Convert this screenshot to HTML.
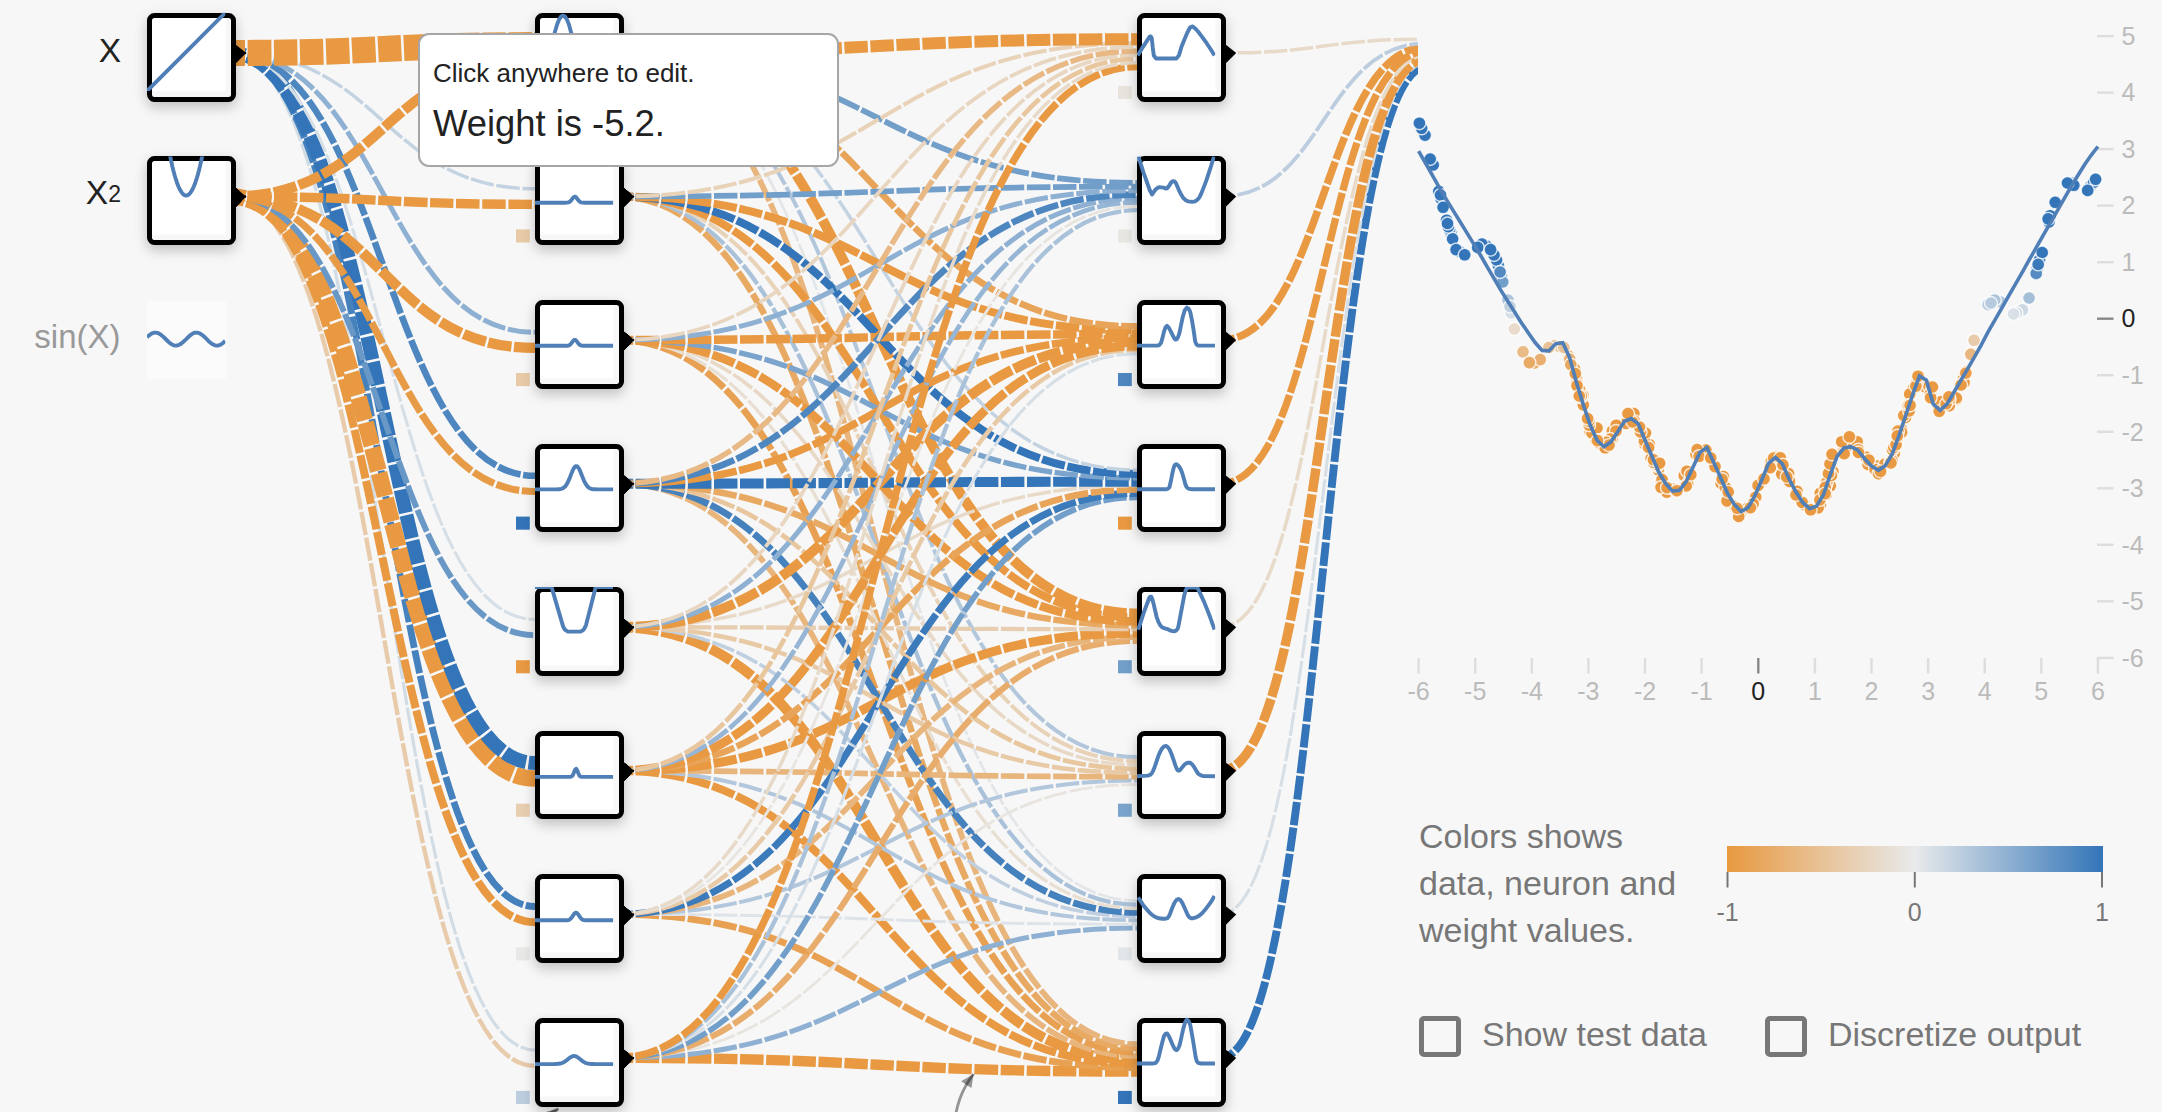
<!DOCTYPE html>
<html><head><meta charset="utf-8"><title>Neural network playground</title>
<style>
html,body{margin:0;padding:0}
body{width:2162px;height:1112px;overflow:hidden;position:relative;background:#f7f7f7;font-family:"Liberation Sans",sans-serif;color:#777}
.nd{position:absolute;box-sizing:border-box;width:88.6px;height:88.8px;border:5px solid #000;border-radius:7.5px;background:#f7f7f7 linear-gradient(#fff,#fff) no-repeat 0 0/73.5px 73.5px;box-shadow:0 5px 13px rgba(0,0,0,.23)}
.off{position:absolute;left:147px;top:300.9px;width:78.8px;height:78.3px;background:#fbfbfb}
svg{position:absolute;left:0;top:0;overflow:hidden}
.l{fill:none;stroke-dasharray:23.5 2.6;stroke-dashoffset:9}
.p{fill:none;stroke:#4f7fb6;stroke-width:3.9;stroke-linejoin:round}
#net text{fill:#222}
#chart text{font-size:25px}
#chart circle{stroke:rgba(255,255,255,.8);stroke-width:1.4}
.leg{position:absolute;left:1419px;top:813px;width:275px;font-size:34px;line-height:47px;color:#777}
.bar{position:absolute;left:1727px;top:846px;width:376px;height:26px;background:linear-gradient(90deg,#e89941 0%,#e8eaeb 50%,#3375b8 100%)}
.cb{position:absolute;box-sizing:border-box;width:41.5px;height:41px;border:5.2px solid #777;border-radius:5px}
.cl{position:absolute;font-size:34px;line-height:40px;color:#777;white-space:nowrap}
.tip{position:absolute;box-sizing:border-box;left:418px;top:33px;width:420.5px;height:133.5px;background:#fff;border:2px solid #a6a6a6;border-radius:11px;color:#222}
.tip div{position:absolute;left:13px;white-space:nowrap}
</style></head><body>
<div class="off"></div>
<svg id="lnk" width="1418" height="1112" viewBox="0 0 1418 1112">
<g><path class="l" d="M1220.5,1057.9C1323.8,1057.9 1323.8,66.7 1427,66.7" stroke="#3375b8" stroke-width="7.9"/><path d="M1223.1,1071L1236.2,1057.9L1223.1,1047.5Z" fill="#000"/>
<path class="l" d="M1220.5,914.4C1323.8,914.4 1323.8,62.7 1427,62.7" stroke="#d6dee6" stroke-width="3.1"/><path d="M1223.1,927.4L1236.2,914.4L1223.1,903.9Z" fill="#000"/>
<path class="l" d="M1220.5,770.8C1323.8,770.8 1323.8,58.8 1427,58.8" stroke="#e89941" stroke-width="9.4"/><path d="M1223.1,783.8L1236.2,770.8L1223.1,760.4Z" fill="#000"/>
<path class="l" d="M1220.5,627.2C1323.8,627.2 1323.8,54.9 1427,54.9" stroke="#e8dac9" stroke-width="3.5"/><path d="M1223.1,640.3L1236.2,627.2L1223.1,616.8Z" fill="#000"/>
<path class="l" d="M1220.5,483.7C1323.8,483.7 1323.8,51 1427,51" stroke="#e89941" stroke-width="7.3"/><path d="M1223.1,496.7L1236.2,483.7L1223.1,473.2Z" fill="#000"/>
<path class="l" d="M1220.5,340.1C1323.8,340.1 1323.8,47.1 1427,47.1" stroke="#e89941" stroke-width="7.5"/><path d="M1223.1,353.1L1236.2,340.1L1223.1,329.6Z" fill="#000"/>
<path class="l" d="M1220.5,196.5C1323.8,196.5 1323.8,43.2 1427,43.2" stroke="#bbcdde" stroke-width="3.8"/><path d="M1223.1,209.6L1236.2,196.5L1223.1,186.1Z" fill="#000"/>
<path class="l" d="M1220.5,53C1323.8,53 1323.8,39.2 1427,39.2" stroke="#e8dac9" stroke-width="3.5"/><path d="M1223.1,66L1236.2,53L1223.1,42.5Z" fill="#000"/>
<path class="l" d="M618.5,1057.9C877.8,1057.9 877.8,1071.6 1137,1071.6" stroke="#e89941" stroke-width="10.4"/><path d="M621.1,1071L634.2,1057.9L621.1,1047.5Z" fill="#000"/>
<path class="l" d="M618.5,914.4C877.8,914.4 877.8,1067.7 1137,1067.7" stroke="#e8a152" stroke-width="6.8"/><path d="M621.1,927.4L634.2,914.4L621.1,903.9Z" fill="#000"/>
<path class="l" d="M618.5,770.8C877.8,770.8 877.8,1063.8 1137,1063.8" stroke="#e89941" stroke-width="8"/><path d="M621.1,783.8L634.2,770.8L621.1,760.4Z" fill="#000"/>
<path class="l" d="M618.5,627.2C877.8,627.2 877.8,1059.9 1137,1059.9" stroke="#e89941" stroke-width="10.1"/><path d="M621.1,640.3L634.2,627.2L621.1,616.8Z" fill="#000"/>
<path class="l" d="M618.5,483.7C877.8,483.7 877.8,1056 1137,1056" stroke="#e8b57c" stroke-width="5.7"/><path d="M621.1,496.7L634.2,483.7L621.1,473.2Z" fill="#000"/>
<path class="l" d="M618.5,340.1C877.8,340.1 877.8,1052.1 1137,1052.1" stroke="#e8a152" stroke-width="6.8"/><path d="M621.1,353.1L634.2,340.1L621.1,329.6Z" fill="#000"/>
<path class="l" d="M618.5,196.5C877.8,196.5 877.8,1048.2 1137,1048.2" stroke="#e8a963" stroke-width="6.4"/><path d="M621.1,209.6L634.2,196.5L621.1,186.1Z" fill="#000"/>
<path class="l" d="M618.5,53C877.8,53 877.8,1044.2 1137,1044.2" stroke="#e8b57c" stroke-width="5.7"/><path d="M621.1,66L634.2,53L621.1,42.5Z" fill="#000"/>
<path class="l" d="M618.5,1057.9C877.8,1057.9 877.8,928.1 1137,928.1" stroke="#8eb0d2" stroke-width="5"/><path d="M621.1,1071L634.2,1057.9L621.1,1047.5Z" fill="#000"/>
<path class="l" d="M618.5,914.4C877.8,914.4 877.8,924.2 1137,924.2" stroke="#dde3e8" stroke-width="2.9"/><path d="M621.1,927.4L634.2,914.4L621.1,903.9Z" fill="#000"/>
<path class="l" d="M618.5,770.8C877.8,770.8 877.8,920.2 1137,920.2" stroke="#b2c7dc" stroke-width="4"/><path d="M621.1,783.8L634.2,770.8L621.1,760.4Z" fill="#000"/>
<path class="l" d="M618.5,627.2C877.8,627.2 877.8,916.3 1137,916.3" stroke="#c0d0e0" stroke-width="3.6"/><path d="M621.1,640.3L634.2,627.2L621.1,616.8Z" fill="#000"/>
<path class="l" d="M618.5,483.7C877.8,483.7 877.8,912.4 1137,912.4" stroke="#4581bd" stroke-width="6.8"/><path d="M621.1,496.7L634.2,483.7L621.1,473.2Z" fill="#000"/>
<path class="l" d="M618.5,340.1C877.8,340.1 877.8,908.5 1137,908.5" stroke="#e8ded2" stroke-width="3.3"/><path d="M621.1,353.1L634.2,340.1L621.1,329.6Z" fill="#000"/>
<path class="l" d="M618.5,196.5C877.8,196.5 877.8,904.6 1137,904.6" stroke="#a9c1d9" stroke-width="4.3"/><path d="M621.1,209.6L634.2,196.5L621.1,186.1Z" fill="#000"/>
<path class="l" d="M618.5,53C877.8,53 877.8,900.7 1137,900.7" stroke="#e3e6e9" stroke-width="2.8"/><path d="M621.1,66L634.2,53L621.1,42.5Z" fill="#000"/>
<path class="l" d="M618.5,1057.9C877.8,1057.9 877.8,784.5 1137,784.5" stroke="#e8e4df" stroke-width="2.9"/><path d="M621.1,1071L634.2,1057.9L621.1,1047.5Z" fill="#000"/>
<path class="l" d="M618.5,914.4C877.8,914.4 877.8,780.6 1137,780.6" stroke="#b2c7dc" stroke-width="4"/><path d="M621.1,927.4L634.2,914.4L621.1,903.9Z" fill="#000"/>
<path class="l" d="M618.5,770.8C877.8,770.8 877.8,776.7 1137,776.7" stroke="#e8b57c" stroke-width="5.7"/><path d="M621.1,783.8L634.2,770.8L621.1,760.4Z" fill="#000"/>
<path class="l" d="M618.5,627.2C877.8,627.2 877.8,772.8 1137,772.8" stroke="#e8caa7" stroke-width="4.5"/><path d="M621.1,640.3L634.2,627.2L621.1,616.8Z" fill="#000"/>
<path class="l" d="M618.5,483.7C877.8,483.7 877.8,768.8 1137,768.8" stroke="#e8c69e" stroke-width="4.7"/><path d="M621.1,496.7L634.2,483.7L621.1,473.2Z" fill="#000"/>
<path class="l" d="M618.5,340.1C877.8,340.1 877.8,764.9 1137,764.9" stroke="#e8d8c6" stroke-width="3.6"/><path d="M621.1,353.1L634.2,340.1L621.1,329.6Z" fill="#000"/>
<path class="l" d="M618.5,196.5C877.8,196.5 877.8,761 1137,761" stroke="#e8d2b8" stroke-width="4"/><path d="M621.1,209.6L634.2,196.5L621.1,186.1Z" fill="#000"/>
<path class="l" d="M618.5,53C877.8,53 877.8,757.1 1137,757.1" stroke="#b2c7dc" stroke-width="4"/><path d="M621.1,66L634.2,53L621.1,42.5Z" fill="#000"/>
<path class="l" d="M618.5,1057.9C877.8,1057.9 877.8,640.9 1137,640.9" stroke="#e8ad6c" stroke-width="6.1"/><path d="M621.1,1071L634.2,1057.9L621.1,1047.5Z" fill="#000"/>
<path class="l" d="M618.5,914.4C877.8,914.4 877.8,637 1137,637" stroke="#e8b57c" stroke-width="5.7"/><path d="M621.1,927.4L634.2,914.4L621.1,903.9Z" fill="#000"/>
<path class="l" d="M618.5,770.8C877.8,770.8 877.8,633.1 1137,633.1" stroke="#e89941" stroke-width="9.2"/><path d="M621.1,783.8L634.2,770.8L621.1,760.4Z" fill="#000"/>
<path class="l" d="M618.5,627.2C877.8,627.2 877.8,629.2 1137,629.2" stroke="#e8ceb0" stroke-width="4.3"/><path d="M621.1,640.3L634.2,627.2L621.1,616.8Z" fill="#000"/>
<path class="l" d="M618.5,483.7C877.8,483.7 877.8,625.3 1137,625.3" stroke="#e8a963" stroke-width="6.4"/><path d="M621.1,496.7L634.2,483.7L621.1,473.2Z" fill="#000"/>
<path class="l" d="M618.5,340.1C877.8,340.1 877.8,621.4 1137,621.4" stroke="#e89941" stroke-width="8.5"/><path d="M621.1,353.1L634.2,340.1L621.1,329.6Z" fill="#000"/>
<path class="l" d="M618.5,196.5C877.8,196.5 877.8,617.4 1137,617.4" stroke="#e89941" stroke-width="8"/><path d="M621.1,209.6L634.2,196.5L621.1,186.1Z" fill="#000"/>
<path class="l" d="M618.5,53C877.8,53 877.8,613.5 1137,613.5" stroke="#e89941" stroke-width="10.1"/><path d="M621.1,66L634.2,53L621.1,42.5Z" fill="#000"/>
<path class="l" d="M618.5,1057.9C877.8,1057.9 877.8,497.4 1137,497.4" stroke="#729eca" stroke-width="5.7"/><path d="M621.1,1071L634.2,1057.9L621.1,1047.5Z" fill="#000"/>
<path class="l" d="M618.5,914.4C877.8,914.4 877.8,493.4 1137,493.4" stroke="#3c7bbb" stroke-width="7.1"/><path d="M621.1,927.4L634.2,914.4L621.1,903.9Z" fill="#000"/>
<path class="l" d="M618.5,770.8C877.8,770.8 877.8,489.5 1137,489.5" stroke="#e8a55a" stroke-width="6.6"/><path d="M621.1,783.8L634.2,770.8L621.1,760.4Z" fill="#000"/>
<path class="l" d="M618.5,627.2C877.8,627.2 877.8,485.6 1137,485.6" stroke="#e8dac9" stroke-width="3.5"/><path d="M621.1,640.3L634.2,627.2L621.1,616.8Z" fill="#000"/>
<path class="l" d="M618.5,483.7C877.8,483.7 877.8,481.7 1137,481.7" stroke="#3375b8" stroke-width="10.1"/><path d="M621.1,496.7L634.2,483.7L621.1,473.2Z" fill="#000"/>
<path class="l" d="M618.5,340.1C877.8,340.1 877.8,477.8 1137,477.8" stroke="#7ba4cc" stroke-width="5.4"/><path d="M621.1,353.1L634.2,340.1L621.1,329.6Z" fill="#000"/>
<path class="l" d="M618.5,196.5C877.8,196.5 877.8,473.9 1137,473.9" stroke="#3375b8" stroke-width="8"/><path d="M621.1,209.6L634.2,196.5L621.1,186.1Z" fill="#000"/>
<path class="l" d="M618.5,53C877.8,53 877.8,470 1137,470" stroke="#c4d3e1" stroke-width="3.5"/><path d="M621.1,66L634.2,53L621.1,42.5Z" fill="#000"/>
<path class="l" d="M618.5,1057.9C877.8,1057.9 877.8,353.8 1137,353.8" stroke="#d6dee6" stroke-width="3.1"/><path d="M621.1,1071L634.2,1057.9L621.1,1047.5Z" fill="#000"/>
<path class="l" d="M618.5,914.4C877.8,914.4 877.8,349.9 1137,349.9" stroke="#e8caa7" stroke-width="4.5"/><path d="M621.1,927.4L634.2,914.4L621.1,903.9Z" fill="#000"/>
<path class="l" d="M618.5,770.8C877.8,770.8 877.8,346 1137,346" stroke="#e89941" stroke-width="9"/><path d="M621.1,783.8L634.2,770.8L621.1,760.4Z" fill="#000"/>
<path class="l" d="M618.5,627.2C877.8,627.2 877.8,342 1137,342" stroke="#e89941" stroke-width="10.1"/><path d="M621.1,640.3L634.2,627.2L621.1,616.8Z" fill="#000"/>
<path class="l" d="M618.5,483.7C877.8,483.7 877.8,338.1 1137,338.1" stroke="#e89941" stroke-width="7.5"/><path d="M621.1,496.7L634.2,483.7L621.1,473.2Z" fill="#000"/>
<path class="l" d="M618.5,340.1C877.8,340.1 877.8,334.2 1137,334.2" stroke="#e89941" stroke-width="8.5"/><path d="M621.1,353.1L634.2,340.1L621.1,329.6Z" fill="#000"/>
<path class="l" d="M618.5,196.5C877.8,196.5 877.8,330.3 1137,330.3" stroke="#e89941" stroke-width="8"/><path d="M621.1,209.6L634.2,196.5L621.1,186.1Z" fill="#000"/>
<path class="l" d="M618.5,53C877.8,53 877.8,326.4 1137,326.4" stroke="#e8a55a" stroke-width="6.6"/><path d="M621.1,66L634.2,53L621.1,42.5Z" fill="#000"/>
<path class="l" d="M618.5,1057.9C877.8,1057.9 877.8,210.2 1137,210.2" stroke="#a9c1d9" stroke-width="4.3"/><path d="M621.1,1071L634.2,1057.9L621.1,1047.5Z" fill="#000"/>
<path class="l" d="M618.5,914.4C877.8,914.4 877.8,206.3 1137,206.3" stroke="#e8e5e1" stroke-width="2.9"/><path d="M621.1,927.4L634.2,914.4L621.1,903.9Z" fill="#000"/>
<path class="l" d="M618.5,770.8C877.8,770.8 877.8,202.4 1137,202.4" stroke="#97b5d4" stroke-width="4.7"/><path d="M621.1,783.8L634.2,770.8L621.1,760.4Z" fill="#000"/>
<path class="l" d="M618.5,627.2C877.8,627.2 877.8,198.5 1137,198.5" stroke="#8eb0d2" stroke-width="5"/><path d="M621.1,640.3L634.2,627.2L621.1,616.8Z" fill="#000"/>
<path class="l" d="M618.5,483.7C877.8,483.7 877.8,194.6 1137,194.6" stroke="#4e87c0" stroke-width="6.6"/><path d="M621.1,496.7L634.2,483.7L621.1,473.2Z" fill="#000"/>
<path class="l" d="M618.5,340.1C877.8,340.1 877.8,190.6 1137,190.6" stroke="#8eb0d2" stroke-width="5"/><path d="M621.1,353.1L634.2,340.1L621.1,329.6Z" fill="#000"/>
<path class="l" d="M618.5,196.5C877.8,196.5 877.8,186.7 1137,186.7" stroke="#729eca" stroke-width="5.7"/><path d="M621.1,209.6L634.2,196.5L621.1,186.1Z" fill="#000"/>
<path class="l" d="M618.5,53C877.8,53 877.8,182.8 1137,182.8" stroke="#729eca" stroke-width="5.7"/><path d="M621.1,66L634.2,53L621.1,42.5Z" fill="#000"/>
<path class="l" d="M618.5,1057.9C877.8,1057.9 877.8,66.7 1137,66.7" stroke="#e89941" stroke-width="7.3"/><path d="M621.1,1071L634.2,1057.9L621.1,1047.5Z" fill="#000"/>
<path class="l" d="M618.5,914.4C877.8,914.4 877.8,62.7 1137,62.7" stroke="#e8dac9" stroke-width="3.5"/><path d="M621.1,927.4L634.2,914.4L621.1,903.9Z" fill="#000"/>
<path class="l" d="M618.5,770.8C877.8,770.8 877.8,58.8 1137,58.8" stroke="#e8c69e" stroke-width="4.7"/><path d="M621.1,783.8L634.2,770.8L621.1,760.4Z" fill="#000"/>
<path class="l" d="M618.5,627.2C877.8,627.2 877.8,54.9 1137,54.9" stroke="#e8d6c0" stroke-width="3.8"/><path d="M621.1,640.3L634.2,627.2L621.1,616.8Z" fill="#000"/>
<path class="l" d="M618.5,483.7C877.8,483.7 877.8,51 1137,51" stroke="#e8b985" stroke-width="5.4"/><path d="M621.1,496.7L634.2,483.7L621.1,473.2Z" fill="#000"/>
<path class="l" d="M618.5,340.1C877.8,340.1 877.8,47.1 1137,47.1" stroke="#e8d6c0" stroke-width="3.8"/><path d="M621.1,353.1L634.2,340.1L621.1,329.6Z" fill="#000"/>
<path class="l" d="M618.5,196.5C877.8,196.5 877.8,43.2 1137,43.2" stroke="#e8d2b8" stroke-width="4"/><path d="M621.1,209.6L634.2,196.5L621.1,186.1Z" fill="#000"/>
<path class="l" d="M618.5,53C877.8,53 877.8,39.2 1137,39.2" stroke="#e89941" stroke-width="12"/><path d="M621.1,66L634.2,53L621.1,42.5Z" fill="#000"/>
<path class="l" d="M230.5,196.5C382.8,196.5 382.8,1065.8 535,1065.8" stroke="#e8cbaa" stroke-width="4.4"/><path d="M233.1,209.6L246.2,196.5L233.1,186.1Z" fill="#000"/>
<path class="l" d="M230.5,53C382.8,53 382.8,1050.1 535,1050.1" stroke="#d2dce5" stroke-width="3.2"/><path d="M233.1,66L246.2,53L233.1,42.5Z" fill="#000"/>
<path class="l" d="M230.5,196.5C382.8,196.5 382.8,922.2 535,922.2" stroke="#e89941" stroke-width="8"/><path d="M233.1,209.6L246.2,196.5L233.1,186.1Z" fill="#000"/>
<path class="l" d="M230.5,53C382.8,53 382.8,906.5 535,906.5" stroke="#4581bd" stroke-width="6.8"/><path d="M233.1,66L246.2,53L233.1,42.5Z" fill="#000"/>
<path class="l" d="M230.5,196.5C382.8,196.5 382.8,778.6 535,778.6" stroke="#e89941" stroke-width="16.5"/><path d="M233.1,209.6L246.2,196.5L233.1,186.1Z" fill="#000"/>
<path class="l" d="M230.5,53C382.8,53 382.8,763 535,763" stroke="#3375b8" stroke-width="13.9"/><path d="M233.1,66L246.2,53L233.1,42.5Z" fill="#000"/>
<path class="l" d="M230.5,196.5C382.8,196.5 382.8,635.1 535,635.1" stroke="#6998c7" stroke-width="5.9"/><path d="M233.1,209.6L246.2,196.5L233.1,186.1Z" fill="#000"/>
<path class="l" d="M230.5,53C382.8,53 382.8,619.4 535,619.4" stroke="#d6dee6" stroke-width="3.1"/><path d="M233.1,66L246.2,53L233.1,42.5Z" fill="#000"/>
<path class="l" d="M230.5,196.5C382.8,196.5 382.8,491.5 535,491.5" stroke="#e89b46" stroke-width="7.2"/><path d="M233.1,209.6L246.2,196.5L233.1,186.1Z" fill="#000"/>
<path class="l" d="M230.5,53C382.8,53 382.8,475.8 535,475.8" stroke="#4e87c0" stroke-width="6.6"/><path d="M233.1,66L246.2,53L233.1,42.5Z" fill="#000"/>
<path class="l" d="M230.5,196.5C382.8,196.5 382.8,347.9 535,347.9" stroke="#e89941" stroke-width="10.3"/><path d="M233.1,209.6L246.2,196.5L233.1,186.1Z" fill="#000"/>
<path class="l" d="M230.5,53C382.8,53 382.8,332.3 535,332.3" stroke="#8eb0d2" stroke-width="5"/><path d="M233.1,66L246.2,53L233.1,42.5Z" fill="#000"/>
<path class="l" d="M230.5,196.5C382.8,196.5 382.8,204.4 535,204.4" stroke="#e89941" stroke-width="9.4"/><path d="M233.1,209.6L246.2,196.5L233.1,186.1Z" fill="#000"/>
<path class="l" d="M230.5,53C382.8,53 382.8,188.7 535,188.7" stroke="#c4d3e1" stroke-width="3.5"/><path d="M233.1,66L246.2,53L233.1,42.5Z" fill="#000"/>
<path class="l" d="M230.5,196.5C382.8,196.5 382.8,60.8 535,60.8" stroke="#e89941" stroke-width="10.1"/><path d="M233.1,209.6L246.2,196.5L233.1,186.1Z" fill="#000"/>
<path class="l" d="M230.5,53C382.8,53 382.8,45.1 535,45.1" stroke="#e89941" stroke-width="26.1"/><path d="M233.1,66L246.2,53L233.1,42.5Z" fill="#000"/></g>
<g><rect x="516" y="85.9" width="13.8" height="13.1" fill="#e8d2b8"/><rect x="1118" y="85.9" width="13.8" height="13.1" fill="#e8e4dd"/><rect x="516" y="229.4" width="13.8" height="13.1" fill="#e8caa7"/><rect x="1118" y="229.4" width="13.8" height="13.1" fill="#e8e6e2"/><rect x="516" y="373" width="13.8" height="13.1" fill="#e8caa7"/><rect x="1118" y="373" width="13.8" height="13.1" fill="#4e87c0"/><rect x="516" y="516.6" width="13.8" height="13.1" fill="#3375b8"/><rect x="1118" y="516.6" width="13.8" height="13.1" fill="#e89941"/><rect x="516" y="660.2" width="13.8" height="13.1" fill="#e89941"/><rect x="1118" y="660.2" width="13.8" height="13.1" fill="#729eca"/><rect x="516" y="803.7" width="13.8" height="13.1" fill="#e8ceb0"/><rect x="1118" y="803.7" width="13.8" height="13.1" fill="#7ba4cc"/><rect x="516" y="947.3" width="13.8" height="13.1" fill="#e8e8e6"/><rect x="1118" y="947.3" width="13.8" height="13.1" fill="#e3e6e9"/><rect x="516" y="1090.9" width="13.8" height="13.1" fill="#bbcdde"/><rect x="1118" y="1090.9" width="13.8" height="13.1" fill="#3375b8"/></g>
</svg>
<div class="nd" style="left:147px;top:12.8px"></div>
<div class="nd" style="left:147px;top:156.4px"></div>
<div class="nd" style="left:535px;top:12.8px"></div>
<div class="nd" style="left:535px;top:156.4px"></div>
<div class="nd" style="left:535px;top:299.9px"></div>
<div class="nd" style="left:535px;top:443.5px"></div>
<div class="nd" style="left:535px;top:587.1px"></div>
<div class="nd" style="left:535px;top:730.6px"></div>
<div class="nd" style="left:535px;top:874.2px"></div>
<div class="nd" style="left:535px;top:1017.8px"></div>
<div class="nd" style="left:1137px;top:12.8px"></div>
<div class="nd" style="left:1137px;top:156.4px"></div>
<div class="nd" style="left:1137px;top:299.9px"></div>
<div class="nd" style="left:1137px;top:443.5px"></div>
<div class="nd" style="left:1137px;top:587.1px"></div>
<div class="nd" style="left:1137px;top:730.6px"></div>
<div class="nd" style="left:1137px;top:874.2px"></div>
<div class="nd" style="left:1137px;top:1017.8px"></div>
<svg id="net" width="1418" height="1112" viewBox="0 0 1418 1112">
<defs><clipPath id="c0"><rect x="147" y="12.8" width="78.3" height="78.3"/></clipPath><clipPath id="c1"><rect x="147" y="156.4" width="78.3" height="78.3"/></clipPath><clipPath id="c2"><rect x="535" y="12.8" width="78.3" height="78.3"/></clipPath><clipPath id="c3"><rect x="1137" y="12.8" width="78.3" height="78.3"/></clipPath><clipPath id="c4"><rect x="535" y="156.4" width="78.3" height="78.3"/></clipPath><clipPath id="c5"><rect x="1137" y="156.4" width="78.3" height="78.3"/></clipPath><clipPath id="c6"><rect x="535" y="299.9" width="78.3" height="78.3"/></clipPath><clipPath id="c7"><rect x="1137" y="299.9" width="78.3" height="78.3"/></clipPath><clipPath id="c8"><rect x="535" y="443.5" width="78.3" height="78.3"/></clipPath><clipPath id="c9"><rect x="1137" y="443.5" width="78.3" height="78.3"/></clipPath><clipPath id="c10"><rect x="535" y="587.1" width="78.3" height="78.3"/></clipPath><clipPath id="c11"><rect x="1137" y="587.1" width="78.3" height="78.3"/></clipPath><clipPath id="c12"><rect x="535" y="730.6" width="78.3" height="78.3"/></clipPath><clipPath id="c13"><rect x="1137" y="730.6" width="78.3" height="78.3"/></clipPath><clipPath id="c14"><rect x="535" y="874.2" width="78.3" height="78.3"/></clipPath><clipPath id="c15"><rect x="1137" y="874.2" width="78.3" height="78.3"/></clipPath><clipPath id="c16"><rect x="535" y="1017.8" width="78.3" height="78.3"/></clipPath><clipPath id="c17"><rect x="1137" y="1017.8" width="78.3" height="78.3"/></clipPath><clipPath id="c18"><rect x="147" y="299.9" width="78.3" height="78.3"/></clipPath></defs>
<g><polyline class="p" clip-path="url(#c0)" points="144,94.1 228.3,9.8"/>
<polyline class="p" clip-path="url(#c1)" points="168.5,148 168.9,149.7 169.2,151.4 169.5,153.1 169.8,154.7 170.2,156.4 170.5,157.9 170.8,159.5 171.1,161 171.5,162.5 171.8,163.9 172.1,165.4 172.4,166.7 172.8,168.1 173.1,169.4 173.4,170.7 173.8,172 174.1,173.2 174.4,174.4 174.7,175.5 175.1,176.7 175.4,177.8 175.7,178.8 176,179.8 176.4,180.8 176.7,181.8 177,182.7 177.3,183.6 177.7,184.5 178,185.3 178.3,186.1 178.6,186.9 179,187.6 179.3,188.3 179.6,189 180,189.6 180.3,190.2 180.6,190.8 180.9,191.3 181.3,191.8 181.6,192.3 181.9,192.8 182.2,193.2 182.6,193.5 182.9,193.9 183.2,194.2 183.5,194.5 183.9,194.7 184.2,194.9 184.5,195.1 184.8,195.3 185.2,195.4 185.5,195.5 185.8,195.5 186.2,195.5 186.5,195.5 186.8,195.5 187.1,195.4 187.5,195.3 187.8,195.1 188.1,194.9 188.4,194.7 188.8,194.5 189.1,194.2 189.4,193.9 189.7,193.5 190.1,193.2 190.4,192.8 190.7,192.3 191,191.8 191.4,191.3 191.7,190.8 192,190.2 192.3,189.6 192.7,189 193,188.3 193.3,187.6 193.7,186.9 194,186.1 194.3,185.3 194.6,184.5 195,183.6 195.3,182.7 195.6,181.8 195.9,180.8 196.3,179.8 196.6,178.8 196.9,177.8 197.2,176.7 197.6,175.5 197.9,174.4 198.2,173.2 198.5,172 198.9,170.7 199.2,169.4 199.5,168.1 199.9,166.7 200.2,165.4 200.5,163.9 200.8,162.5 201.2,161 201.5,159.5 201.8,157.9 202.1,156.4 202.5,154.7 202.8,153.1 203.1,151.4 203.4,149.7 203.8,148"/>
<polyline class="p" clip-path="url(#c2)" points="535,58.8 544,58.8 547,57.8 550,53.8 552,44.8 554.7,32.8 557,24.7 559,19.6 561,16.6 563,15.6 565,16.6 567,19.6 569,24.7 571.2,32.8 574,44.8 576,53.8 579,57.8 582,58.8 613,58.8"/>
<polyline class="p" clip-path="url(#c3)" points="1137.8,55.5 1143,46.8 1149.7,36.7 1150.8,36.4 1151.8,38.4 1152.8,47.8 1153.8,55.5 1156.1,58.5 1176.4,58.5 1178.9,55.5 1181.5,46.8 1184.3,39.7 1187.5,32.3 1190.2,27.3 1192.7,26.4 1195.5,28.8 1199.1,32.8 1203,38.1 1207,43.7 1211,49.8 1214.5,55.5"/>
<polyline class="p" clip-path="url(#c4)" points="535,202.7 536,202.7 537,202.7 538,202.7 539,202.7 540,202.7 541,202.7 542,202.7 543,202.7 544,202.7 545,202.7 546,202.7 547,202.7 548,202.7 549.1,202.7 550.1,202.7 551.1,202.7 552.1,202.7 553.1,202.7 554.1,202.7 555.1,202.7 556.1,202.7 557.1,202.7 558.1,202.7 559.1,202.7 560.1,202.7 561.1,202.7 562.1,202.7 563.1,202.7 564.1,202.7 565.1,202.7 566.1,202.6 567.1,202.6 568.1,202.4 569.1,202.1 570.1,201.5 571.1,200.4 572.1,199.1 573.1,197.8 574.1,196.9 575.2,196.7 576.2,197.4 577.2,198.7 578.2,200.1 579.2,201.2 580.2,202 581.2,202.4 582.2,202.6 583.2,202.6 584.2,202.7 585.2,202.7 586.2,202.7 587.2,202.7 588.2,202.7 589.2,202.7 590.2,202.7 591.2,202.7 592.2,202.7 593.2,202.7 594.2,202.7 595.2,202.7 596.2,202.7 597.2,202.7 598.2,202.7 599.2,202.7 600.2,202.7 601.3,202.7 602.3,202.7 603.3,202.7 604.3,202.7 605.3,202.7 606.3,202.7 607.3,202.7 608.3,202.7 609.3,202.7 610.3,202.7 611.3,202.7 612.3,202.7 613.3,202.7"/>
<polyline class="p" clip-path="url(#c5)" points="1138.3,156.4 1143.7,173.2 1149.7,190 1152.1,194.5 1153.8,191.9 1155.6,189.5 1157.5,187.9 1159.6,187.1 1163.5,187.6 1165.5,188.6 1167,188.4 1168.3,186.9 1169.5,185.1 1171.2,182.4 1172.9,181.1 1174.5,181.4 1175.9,183 1177.5,186.8 1179.3,191 1181.3,194.8 1183.3,198 1185.8,200.2 1188.3,201.4 1192.2,201.9 1195,201.3 1197.2,199.9 1199.3,197.4 1201.1,194 1203.5,187.9 1206.1,181.1 1211,166.3 1214,156.4"/>
<polyline class="p" clip-path="url(#c6)" points="535,345.8 536,345.8 537,345.8 538,345.8 539,345.8 540,345.8 541,345.8 542,345.8 543,345.8 544,345.8 545,345.8 546,345.8 547,345.8 548,345.8 549.1,345.8 550.1,345.8 551.1,345.8 552.1,345.8 553.1,345.8 554.1,345.8 555.1,345.8 556.1,345.8 557.1,345.8 558.1,345.8 559.1,345.8 560.1,345.8 561.1,345.8 562.1,345.8 563.1,345.8 564.1,345.8 565.1,345.8 566.1,345.8 567.1,345.8 568.1,345.6 569.1,345.3 570.1,344.6 571.1,343.6 572.1,342.3 573.1,340.9 574.1,340 575.2,339.9 576.2,340.6 577.2,341.9 578.2,343.2 579.2,344.4 580.2,345.1 581.2,345.5 582.2,345.7 583.2,345.8 584.2,345.8 585.2,345.8 586.2,345.8 587.2,345.8 588.2,345.8 589.2,345.8 590.2,345.8 591.2,345.8 592.2,345.8 593.2,345.8 594.2,345.8 595.2,345.8 596.2,345.8 597.2,345.8 598.2,345.8 599.2,345.8 600.2,345.8 601.3,345.8 602.3,345.8 603.3,345.8 604.3,345.8 605.3,345.8 606.3,345.8 607.3,345.8 608.3,345.8 609.3,345.8 610.3,345.8 611.3,345.8 612.3,345.8 613.3,345.8"/>
<polyline class="p" clip-path="url(#c7)" points="1137,345.6 1157.6,345.6 1159.5,344.9 1161,342.9 1162.5,337.9 1164,331.6 1165.5,327.4 1167,325.8 1168.6,327.4 1170.4,330.6 1172.5,334.9 1174.4,338.5 1175.5,339.5 1176.6,339.3 1177.9,337.4 1179.3,333.5 1181,325.4 1182.8,316.7 1184.8,310.1 1186.8,307.6 1188.6,308.6 1190.2,311.8 1191.7,318.9 1193.2,327.6 1194.3,334.9 1195.2,341.5 1196.5,344.5 1198.1,345.6 1215,345.6"/>
<polyline class="p" clip-path="url(#c8)" points="535,489.4 536,489.4 537,489.4 538,489.4 539,489.4 540,489.4 541,489.4 542,489.4 543,489.4 544,489.4 545,489.4 546,489.4 547,489.4 548,489.4 549.1,489.4 550.1,489.4 551.1,489.4 552.1,489.4 553.1,489.4 554.1,489.4 555.1,489.4 556.1,489.4 557.1,489.4 558.1,489.3 559.1,489.2 560.1,489.1 561.1,488.9 562.1,488.6 563.1,488.1 564.1,487.4 565.1,486.5 566.1,485.2 567.1,483.6 568.1,481.7 569.1,479.4 570.1,477 571.1,474.4 572.1,471.9 573.1,469.6 574.1,467.8 575.2,466.6 576.2,466.1 577.2,466.4 578.2,467.4 579.2,469.1 580.2,471.2 581.2,473.7 582.2,476.3 583.2,478.8 584.2,481.1 585.2,483.1 586.2,484.8 587.2,486.1 588.2,487.2 589.2,487.9 590.2,488.5 591.2,488.8 592.2,489.1 593.2,489.2 594.2,489.3 595.2,489.3 596.2,489.4 597.2,489.4 598.2,489.4 599.2,489.4 600.2,489.4 601.3,489.4 602.3,489.4 603.3,489.4 604.3,489.4 605.3,489.4 606.3,489.4 607.3,489.4 608.3,489.4 609.3,489.4 610.3,489.4 611.3,489.4 612.3,489.4 613.3,489.4"/>
<polyline class="p" clip-path="url(#c9)" points="1137,489.2 1166.5,489.2 1168.3,488.5 1169.5,487 1171,480.5 1172.4,473.2 1173.5,468.5 1174.4,465.8 1175.4,464.5 1176.4,464.3 1177.8,465.1 1179.3,466.8 1180.8,469.5 1182.3,473.2 1183.8,478.5 1185.3,484.1 1186.6,487.1 1188.3,488.6 1191.2,489.2 1215,489.2"/>
<polyline class="p" clip-path="url(#c10)" points="535,587.1 551.6,587.1 557,605.6 563,626.1 564.2,628.6 565.5,630.1 568,631.6 580.6,631.6 583.2,630.1 584.6,628.1 586,625.1 591,605.6 595.7,587.1 613,587.1"/>
<polyline class="p" clip-path="url(#c11)" points="1138.3,629.6 1143.7,612.8 1149.2,598 1150.2,596.7 1151.2,596.7 1152.1,598.6 1153.1,601.9 1156.6,616.8 1158.5,622.1 1160.5,625.7 1162.2,627.3 1164,628.1 1167.5,629.1 1170,630.4 1172.4,631.1 1174.6,631.2 1176.4,630.4 1177.5,628.9 1178.4,626.3 1181.3,610.8 1184.3,595 1185.6,590.6 1186.8,588.1 1188.3,587.5 1197.2,587.5 1199.1,591.1 1204.1,601.9 1210,616.8 1214.5,629.6"/>
<polyline class="p" clip-path="url(#c12)" points="535,776.9 536,776.9 537,776.9 538,776.9 539,776.9 540,776.9 541,776.9 542,776.9 543,776.9 544,776.9 545,776.9 546,776.9 547,776.9 548,776.9 549.1,776.9 550.1,776.9 551.1,776.9 552.1,776.9 553.1,776.9 554.1,776.9 555.1,776.9 556.1,776.9 557.1,776.9 558.1,776.9 559.1,776.9 560.1,776.9 561.1,776.9 562.1,776.9 563.1,776.9 564.1,776.9 565.1,776.9 566.1,776.9 567.1,776.9 568.1,776.9 569.1,776.9 570.1,776.9 571.1,776.7 572.1,776.1 573.1,774.6 574.1,772.1 575.2,769.6 576.2,768.8 577.2,770.3 578.2,773 579.2,775.2 580.2,776.4 581.2,776.8 582.2,776.9 583.2,776.9 584.2,776.9 585.2,776.9 586.2,776.9 587.2,776.9 588.2,776.9 589.2,776.9 590.2,776.9 591.2,776.9 592.2,776.9 593.2,776.9 594.2,776.9 595.2,776.9 596.2,776.9 597.2,776.9 598.2,776.9 599.2,776.9 600.2,776.9 601.3,776.9 602.3,776.9 603.3,776.9 604.3,776.9 605.3,776.9 606.3,776.9 607.3,776.9 608.3,776.9 609.3,776.9 610.3,776.9 611.3,776.9 612.3,776.9 613.3,776.9"/>
<polyline class="p" clip-path="url(#c13)" points="1137,776.3 1147.7,775.6 1150,774.9 1151.6,773.6 1153,771.1 1154.6,767.2 1158.6,755.3 1160.6,750.9 1162.5,747.9 1164.3,746.3 1166,745.9 1167.8,747.1 1169.5,749.4 1171.5,754.1 1173.4,759.3 1175.3,765.1 1176.9,769.2 1178,770.5 1179.3,770.6 1180.8,769.2 1182.3,767.2 1184.3,764.8 1186.3,763.3 1188.3,762.6 1190.2,762.8 1192.2,764.4 1194.2,767.2 1196.2,770.6 1198.1,773.6 1200.5,775.2 1203.1,776.1 1215,776.3"/>
<polyline class="p" clip-path="url(#c14)" points="535,920.3 536,920.3 537,920.3 538,920.3 539,920.3 540,920.3 541,920.3 542,920.3 543,920.3 544,920.3 545,920.3 546,920.3 547,920.3 548,920.3 549.1,920.3 550.1,920.3 551.1,920.3 552.1,920.3 553.1,920.3 554.1,920.3 555.1,920.3 556.1,920.3 557.1,920.3 558.1,920.3 559.1,920.3 560.1,920.3 561.1,920.3 562.1,920.3 563.1,920.3 564.1,920.3 565.1,920.3 566.1,920.3 567.1,920.2 568.1,920.1 569.1,919.8 570.1,919.2 571.1,918.2 572.1,917 573.1,915.4 574.1,914 575.2,912.9 576.2,912.6 577.2,913.2 578.2,914.4 579.2,915.9 580.2,917.4 581.2,918.6 582.2,919.4 583.2,919.9 584.2,920.1 585.2,920.2 586.2,920.3 587.2,920.3 588.2,920.3 589.2,920.3 590.2,920.3 591.2,920.3 592.2,920.3 593.2,920.3 594.2,920.3 595.2,920.3 596.2,920.3 597.2,920.3 598.2,920.3 599.2,920.3 600.2,920.3 601.3,920.3 602.3,920.3 603.3,920.3 604.3,920.3 605.3,920.3 606.3,920.3 607.3,920.3 608.3,920.3 609.3,920.3 610.3,920.3 611.3,920.3 612.3,920.3 613.3,920.3"/>
<polyline class="p" clip-path="url(#c15)" points="1138.3,897.5 1143.7,905.9 1149.7,912.8 1152.7,915.4 1155.6,917.2 1159,918.3 1162.5,918.7 1165.5,918.7 1167.5,918.2 1169,916.2 1170.4,912.8 1172.4,907.5 1174.4,902.9 1176.4,900 1178.4,898.9 1180.4,900 1182.3,902.9 1184.3,907.2 1186.3,911.8 1187.8,915.2 1189.2,917.2 1191.2,918.2 1193.2,918.2 1196.2,917.3 1199.1,915.8 1202.1,913.2 1205.1,909.8 1211,901.9 1214.5,896"/>
<polyline class="p" clip-path="url(#c16)" points="535,1064.1 536,1064.1 537,1064.1 538,1064.1 539,1064.1 540,1064.1 541,1064.1 542,1064.1 543,1064.1 544,1064.1 545,1064.1 546,1064.1 547,1064.1 548,1064.1 549.1,1064.1 550.1,1064.1 551.1,1064.1 552.1,1064.1 553.1,1064.1 554.1,1064.1 555.1,1064 556.1,1064 557.1,1063.9 558.1,1063.8 559.1,1063.7 560.1,1063.5 561.1,1063.3 562.1,1063 563.1,1062.5 564.1,1062 565.1,1061.4 566.1,1060.7 567.1,1059.9 568.1,1059.1 569.1,1058.3 570.1,1057.5 571.1,1056.9 572.1,1056.4 573.1,1056.1 574.1,1056 575.2,1056.1 576.2,1056.5 577.2,1057 578.2,1057.7 579.2,1058.5 580.2,1059.3 581.2,1060.1 582.2,1060.9 583.2,1061.6 584.2,1062.2 585.2,1062.7 586.2,1063.1 587.2,1063.4 588.2,1063.6 589.2,1063.8 590.2,1063.9 591.2,1064 592.2,1064 593.2,1064 594.2,1064.1 595.2,1064.1 596.2,1064.1 597.2,1064.1 598.2,1064.1 599.2,1064.1 600.2,1064.1 601.3,1064.1 602.3,1064.1 603.3,1064.1 604.3,1064.1 605.3,1064.1 606.3,1064.1 607.3,1064.1 608.3,1064.1 609.3,1064.1 610.3,1064.1 611.3,1064.1 612.3,1064.1 613.3,1064.1"/>
<polyline class="p" clip-path="url(#c17)" points="1137,1063.5 1153.6,1063.5 1155.8,1062.8 1157.6,1060.3 1159,1055.8 1160.5,1049.5 1162.3,1042.3 1164,1036.1 1165.5,1033.8 1167,1033.4 1168.7,1035.8 1170.4,1039.6 1172.4,1044.3 1174.4,1048.5 1175.7,1049.8 1176.9,1050 1178.4,1048.1 1179.8,1044.5 1181.5,1036.8 1183.3,1028.7 1185,1022.5 1186.8,1019.6 1188.5,1020.8 1190.2,1024.7 1191.7,1032.8 1193.2,1041.5 1194.5,1049.8 1195.7,1057.4 1196.8,1061.3 1198.1,1062.8 1201.1,1063.5 1215,1063.5"/>
<polyline class="p" clip-path="url(#c18)" points="147,337.3 148,336.3 149,335.5 150,334.7 151,334 152,333.4 153,333 154,332.7 155,332.6 156,332.6 157,332.8 158,333.1 159,333.6 160.1,334.2 161.1,334.9 162.1,335.7 163.1,336.6 164.1,337.5 165.1,338.5 166.1,339.5 167.1,340.5 168.1,341.5 169.1,342.4 170.1,343.2 171.1,343.9 172.1,344.5 173.1,345 174.1,345.4 175.1,345.6 176.1,345.6 177.1,345.5 178.1,345.2 179.1,344.8 180.1,344.3 181.1,343.6 182.1,342.9 183.1,342 184.1,341.1 185.1,340.1 186.2,339.1 187.2,338.1 188.2,337.1 189.2,336.2 190.2,335.3 191.2,334.6 192.2,333.9 193.2,333.3 194.2,332.9 195.2,332.7 196.2,332.6 197.2,332.6 198.2,332.8 199.2,333.2 200.2,333.6 201.2,334.3 202.2,335 203.2,335.8 204.2,336.7 205.2,337.7 206.2,338.7 207.2,339.7 208.2,340.7 209.2,341.6 210.2,342.5 211.2,343.3 212.2,344 213.3,344.6 214.3,345.1 215.3,345.4 216.3,345.6 217.3,345.6 218.3,345.5 219.3,345.2 220.3,344.8 221.3,344.2 222.3,343.5 223.3,342.7 224.3,341.8 225.3,340.9"/></g>
<text x="121" y="61.6" text-anchor="end" font-size="33.5">X</text>
<text x="121" y="204.2" text-anchor="end" font-size="33.5">X<tspan font-size="23" dy="-2">2</tspan></text>
<text x="120.5" y="348.2" text-anchor="end" font-size="33" style="fill:#999">sin(X)</text>
<g fill="none" stroke="#000" stroke-width="2.8" opacity=".4"><path d="M955.5,1116C957,1106 960.5,1095 966.5,1084.5C968.5,1081 970.8,1077.5 973.6,1074"/><path d="M558.5,1108.9C553,1111 548,1114 544,1118"/></g>
<g fill="#000" opacity=".4"><path d="M973.6,1074L961.1,1081.2L971.4,1087.9Z"/><path d="M558.5,1108.9L546.5,1111.5L553.5,1119Z"/></g>
</svg>
<svg id="chart" width="2162" height="760" viewBox="0 0 2162 760">
<g><line x1="1418.6" y1="658" x2="1418.6" y2="673.5" stroke="#ddd" stroke-width="2.4"/><text x="1418.6" y="700" text-anchor="middle" fill="#bbb">-6</text><line x1="1475.2" y1="658" x2="1475.2" y2="673.5" stroke="#ddd" stroke-width="2.4"/><text x="1475.2" y="700" text-anchor="middle" fill="#bbb">-5</text><line x1="1531.8" y1="658" x2="1531.8" y2="673.5" stroke="#ddd" stroke-width="2.4"/><text x="1531.8" y="700" text-anchor="middle" fill="#bbb">-4</text><line x1="1588.4" y1="658" x2="1588.4" y2="673.5" stroke="#ddd" stroke-width="2.4"/><text x="1588.4" y="700" text-anchor="middle" fill="#bbb">-3</text><line x1="1645" y1="658" x2="1645" y2="673.5" stroke="#ddd" stroke-width="2.4"/><text x="1645" y="700" text-anchor="middle" fill="#bbb">-2</text><line x1="1701.6" y1="658" x2="1701.6" y2="673.5" stroke="#ddd" stroke-width="2.4"/><text x="1701.6" y="700" text-anchor="middle" fill="#bbb">-1</text><line x1="1758.3" y1="658" x2="1758.3" y2="673.5" stroke="#888" stroke-width="2.4"/><text x="1758.3" y="700" text-anchor="middle" fill="#222">0</text><line x1="1814.9" y1="658" x2="1814.9" y2="673.5" stroke="#ddd" stroke-width="2.4"/><text x="1814.9" y="700" text-anchor="middle" fill="#bbb">1</text><line x1="1871.5" y1="658" x2="1871.5" y2="673.5" stroke="#ddd" stroke-width="2.4"/><text x="1871.5" y="700" text-anchor="middle" fill="#bbb">2</text><line x1="1928.1" y1="658" x2="1928.1" y2="673.5" stroke="#ddd" stroke-width="2.4"/><text x="1928.1" y="700" text-anchor="middle" fill="#bbb">3</text><line x1="1984.7" y1="658" x2="1984.7" y2="673.5" stroke="#ddd" stroke-width="2.4"/><text x="1984.7" y="700" text-anchor="middle" fill="#bbb">4</text><line x1="2041.3" y1="658" x2="2041.3" y2="673.5" stroke="#ddd" stroke-width="2.4"/><text x="2041.3" y="700" text-anchor="middle" fill="#bbb">5</text><line x1="2097.9" y1="658" x2="2097.9" y2="673.5" stroke="#ddd" stroke-width="2.4"/><text x="2097.9" y="700" text-anchor="middle" fill="#bbb">6</text></g>
<g><line x1="2097" y1="657.9" x2="2113.5" y2="657.9" stroke="#ddd" stroke-width="2.4"/><text x="2121.5" y="666.6" fill="#bbb">-6</text><line x1="2097" y1="601.3" x2="2113.5" y2="601.3" stroke="#ddd" stroke-width="2.4"/><text x="2121.5" y="610" fill="#bbb">-5</text><line x1="2097" y1="544.8" x2="2113.5" y2="544.8" stroke="#ddd" stroke-width="2.4"/><text x="2121.5" y="553.5" fill="#bbb">-4</text><line x1="2097" y1="488.3" x2="2113.5" y2="488.3" stroke="#ddd" stroke-width="2.4"/><text x="2121.5" y="497" fill="#bbb">-3</text><line x1="2097" y1="431.8" x2="2113.5" y2="431.8" stroke="#ddd" stroke-width="2.4"/><text x="2121.5" y="440.5" fill="#bbb">-2</text><line x1="2097" y1="375.2" x2="2113.5" y2="375.2" stroke="#ddd" stroke-width="2.4"/><text x="2121.5" y="383.9" fill="#bbb">-1</text><line x1="2097" y1="318.7" x2="2113.5" y2="318.7" stroke="#888" stroke-width="2.4"/><text x="2121.5" y="327.4" fill="#222">0</text><line x1="2097" y1="262.2" x2="2113.5" y2="262.2" stroke="#ddd" stroke-width="2.4"/><text x="2121.5" y="270.9" fill="#bbb">1</text><line x1="2097" y1="205.6" x2="2113.5" y2="205.6" stroke="#ddd" stroke-width="2.4"/><text x="2121.5" y="214.3" fill="#bbb">2</text><line x1="2097" y1="149.1" x2="2113.5" y2="149.1" stroke="#ddd" stroke-width="2.4"/><text x="2121.5" y="157.8" fill="#bbb">3</text><line x1="2097" y1="92.6" x2="2113.5" y2="92.6" stroke="#ddd" stroke-width="2.4"/><text x="2121.5" y="101.3" fill="#bbb">4</text><line x1="2097" y1="36.1" x2="2113.5" y2="36.1" stroke="#ddd" stroke-width="2.4"/><text x="2121.5" y="44.8" fill="#bbb">5</text></g>
<g><circle cx="1649.4" cy="444.6" r="6.5" fill="#e89941"/><circle cx="1425" cy="135.2" r="6.5" fill="#3375b8"/><circle cx="1743.7" cy="510" r="6.5" fill="#e89941"/><circle cx="1554.5" cy="345.5" r="6.5" fill="#e8c49a"/><circle cx="1587.4" cy="420.1" r="6.5" fill="#e89941"/><circle cx="1894.3" cy="453.3" r="6.5" fill="#e89941"/><circle cx="1583.3" cy="404.8" r="6.5" fill="#e89941"/><circle cx="1924.8" cy="386.7" r="6.5" fill="#e89941"/><circle cx="1577.2" cy="381.6" r="6.5" fill="#e89941"/><circle cx="1441" cy="198.7" r="6.5" fill="#3375b8"/><circle cx="1612.4" cy="431" r="6.5" fill="#e89941"/><circle cx="1486.5" cy="246" r="6.5" fill="#3375b8"/><circle cx="1596.2" cy="440.5" r="6.5" fill="#e89941"/><circle cx="1971" cy="353.4" r="6.5" fill="#e8b883"/><circle cx="1507.9" cy="300" r="6.5" fill="#acc3da"/><circle cx="1723.5" cy="476.5" r="6.5" fill="#e89941"/><circle cx="1820.3" cy="493.2" r="6.5" fill="#e89941"/><circle cx="1843.2" cy="451.8" r="6.5" fill="#e89941"/><circle cx="1594.8" cy="430.9" r="6.5" fill="#e89941"/><circle cx="2089.6" cy="187.2" r="6.5" fill="#3375b8"/><circle cx="1459.5" cy="251.5" r="6.5" fill="#3375b8"/><circle cx="1901.8" cy="429.8" r="6.5" fill="#e89941"/><circle cx="1661.3" cy="481.6" r="6.5" fill="#e89941"/><circle cx="1957.1" cy="398.9" r="6.5" fill="#e89941"/><circle cx="1643.6" cy="432.4" r="6.5" fill="#e89941"/><circle cx="1574.6" cy="368.9" r="6.5" fill="#e8a254"/><circle cx="1877.9" cy="466" r="6.5" fill="#e89941"/><circle cx="1755.7" cy="497.2" r="6.5" fill="#e89941"/><circle cx="1601.2" cy="444.6" r="6.5" fill="#e89941"/><circle cx="1633.8" cy="413.5" r="6.5" fill="#e89941"/><circle cx="2022.4" cy="309.9" r="6.5" fill="#ccd8e3"/><circle cx="1769.8" cy="464" r="6.5" fill="#e89941"/><circle cx="1884.9" cy="464" r="6.5" fill="#e89941"/><circle cx="1421.6" cy="128.3" r="6.5" fill="#3375b8"/><circle cx="2071.8" cy="183.3" r="6.5" fill="#3375b8"/><circle cx="1590.2" cy="432.1" r="6.5" fill="#e89941"/><circle cx="1830.3" cy="485.8" r="6.5" fill="#e89941"/><circle cx="2091.5" cy="185" r="6.5" fill="#3375b8"/><circle cx="1482" cy="244" r="6.5" fill="#3375b8"/><circle cx="1735.2" cy="506.5" r="6.5" fill="#e89941"/><circle cx="1826" cy="484.6" r="6.5" fill="#e89941"/><circle cx="2039.5" cy="260" r="6.5" fill="#3375b8"/><circle cx="1865.8" cy="457.1" r="6.5" fill="#e89941"/><circle cx="1431.5" cy="161.5" r="6.5" fill="#3375b8"/><circle cx="2000.6" cy="302" r="6.5" fill="#b3c7dc"/><circle cx="1450.9" cy="233.2" r="6.5" fill="#3375b8"/><circle cx="1907.7" cy="409.8" r="6.5" fill="#e89941"/><circle cx="1747.6" cy="508" r="6.5" fill="#e89941"/><circle cx="1501.5" cy="277" r="6.5" fill="#6294c5"/><circle cx="1913.5" cy="388.3" r="6.5" fill="#e89941"/><circle cx="2055.2" cy="202.3" r="6.5" fill="#3375b8"/><circle cx="1738.7" cy="516.5" r="6.5" fill="#e89941"/><circle cx="1625.9" cy="423.4" r="6.5" fill="#e89941"/><circle cx="1449.5" cy="229.5" r="6.5" fill="#3375b8"/><circle cx="1760.3" cy="483.2" r="6.5" fill="#e89941"/><circle cx="1905.5" cy="417.5" r="6.5" fill="#e89941"/><circle cx="1580.6" cy="390.3" r="6.5" fill="#e89941"/><circle cx="1832.9" cy="471.5" r="6.5" fill="#e89941"/><circle cx="1696" cy="454.3" r="6.5" fill="#e89941"/><circle cx="1897.1" cy="441.7" r="6.5" fill="#e89941"/><circle cx="1644.2" cy="443.3" r="6.5" fill="#e89941"/><circle cx="2093.6" cy="182.5" r="6.5" fill="#3375b8"/><circle cx="1929" cy="386.3" r="6.5" fill="#e89941"/><circle cx="1580.9" cy="397.4" r="6.5" fill="#e89941"/><circle cx="1890.2" cy="462.1" r="6.5" fill="#e89941"/><circle cx="1988" cy="304.7" r="6.5" fill="#bbcdde"/><circle cx="1699.9" cy="455.2" r="6.5" fill="#e89941"/><circle cx="1651.2" cy="458.4" r="6.5" fill="#e89941"/><circle cx="1966" cy="371.8" r="6.5" fill="#e89e4b"/><circle cx="1868.8" cy="465.2" r="6.5" fill="#e89941"/><circle cx="1892" cy="460.7" r="6.5" fill="#e89941"/><circle cx="1559.7" cy="346.7" r="6.5" fill="#e8c297"/><circle cx="1608.7" cy="443.2" r="6.5" fill="#e89941"/><circle cx="1705.9" cy="450" r="6.5" fill="#e89941"/><circle cx="1809.4" cy="508.2" r="6.5" fill="#e89941"/><circle cx="1644.5" cy="441.2" r="6.5" fill="#e89941"/><circle cx="1770.1" cy="464.7" r="6.5" fill="#e89941"/><circle cx="1582.9" cy="395.3" r="6.5" fill="#e89941"/><circle cx="1956.3" cy="398" r="6.5" fill="#e89941"/><circle cx="1575.8" cy="375.7" r="6.5" fill="#e89941"/><circle cx="1994.7" cy="300" r="6.5" fill="#acc3da"/><circle cx="1645.5" cy="433" r="6.5" fill="#e89941"/><circle cx="1568.7" cy="356.1" r="6.5" fill="#e8b47a"/><circle cx="1666.8" cy="492.2" r="6.5" fill="#e89941"/><circle cx="2029.1" cy="298" r="6.5" fill="#a6bfd8"/><circle cx="1612.1" cy="438.7" r="6.5" fill="#e89941"/><circle cx="1684.3" cy="475.7" r="6.5" fill="#e89941"/><circle cx="1446.6" cy="220.2" r="6.5" fill="#3375b8"/><circle cx="1502.7" cy="282" r="6.5" fill="#729eca"/><circle cx="1948.5" cy="405.8" r="6.5" fill="#e89941"/><circle cx="1963.5" cy="379" r="6.5" fill="#e89941"/><circle cx="1654.2" cy="464" r="6.5" fill="#e89941"/><circle cx="1826.9" cy="482" r="6.5" fill="#e89941"/><circle cx="1569" cy="359.3" r="6.5" fill="#e8b071"/><circle cx="1789.2" cy="477.6" r="6.5" fill="#e89941"/><circle cx="1949.3" cy="405.7" r="6.5" fill="#e89941"/><circle cx="1498.4" cy="265.5" r="6.5" fill="#3e7cbb"/><circle cx="1901.6" cy="432.3" r="6.5" fill="#e89941"/><circle cx="1788.6" cy="473.5" r="6.5" fill="#e89941"/><circle cx="1847" cy="446.8" r="6.5" fill="#e89941"/><circle cx="1771.3" cy="461.4" r="6.5" fill="#e89941"/><circle cx="1511.3" cy="313" r="6.5" fill="#d6dee6"/><circle cx="1775.2" cy="456.7" r="6.5" fill="#e89941"/><circle cx="1804.8" cy="504.8" r="6.5" fill="#e89941"/><circle cx="1868" cy="464.4" r="6.5" fill="#e89941"/><circle cx="1697.2" cy="449.6" r="6.5" fill="#e89941"/><circle cx="1781.1" cy="467.7" r="6.5" fill="#e89941"/><circle cx="1721.2" cy="483.5" r="6.5" fill="#e89941"/><circle cx="1452.6" cy="238.8" r="6.5" fill="#3375b8"/><circle cx="1758.1" cy="485.4" r="6.5" fill="#e89941"/><circle cx="1826.3" cy="494.4" r="6.5" fill="#e89941"/><circle cx="1715.4" cy="466" r="6.5" fill="#e89941"/><circle cx="1534.5" cy="363" r="6.5" fill="#e8ab66"/><circle cx="1658.2" cy="469.9" r="6.5" fill="#e89941"/><circle cx="2037" cy="269.5" r="6.5" fill="#4a84bf"/><circle cx="2073.8" cy="185.3" r="6.5" fill="#3375b8"/><circle cx="1715" cy="466.6" r="6.5" fill="#e89941"/><circle cx="1857.2" cy="441.7" r="6.5" fill="#e89941"/><circle cx="1727" cy="500.9" r="6.5" fill="#e89941"/><circle cx="2050.1" cy="215.7" r="6.5" fill="#3375b8"/><circle cx="1576.2" cy="381.8" r="6.5" fill="#e89941"/><circle cx="1657.1" cy="466.4" r="6.5" fill="#e89941"/><circle cx="2067.5" cy="183" r="6.5" fill="#3375b8"/><circle cx="1514.3" cy="329" r="6.5" fill="#e8dbcc"/><circle cx="1764" cy="478.8" r="6.5" fill="#e89941"/><circle cx="1569.7" cy="359.1" r="6.5" fill="#e8b072"/><circle cx="1825.2" cy="487.3" r="6.5" fill="#e89941"/><circle cx="1944.7" cy="403.7" r="6.5" fill="#e89941"/><circle cx="1774.8" cy="460" r="6.5" fill="#e89941"/><circle cx="1579.6" cy="389.8" r="6.5" fill="#e89941"/><circle cx="1598.9" cy="442.7" r="6.5" fill="#e89941"/><circle cx="1909.7" cy="394.1" r="6.5" fill="#e89941"/><circle cx="1973.8" cy="340.7" r="6.5" fill="#e8caa9"/><circle cx="1938.9" cy="408.1" r="6.5" fill="#e89941"/><circle cx="1875.1" cy="469.5" r="6.5" fill="#e89941"/><circle cx="1687.7" cy="483.5" r="6.5" fill="#e89941"/><circle cx="1812.5" cy="508.7" r="6.5" fill="#e89941"/><circle cx="1576.5" cy="378.6" r="6.5" fill="#e89941"/><circle cx="1940.7" cy="401.9" r="6.5" fill="#e89941"/><circle cx="1653.2" cy="462.1" r="6.5" fill="#e89941"/><circle cx="1777.9" cy="461.4" r="6.5" fill="#e89941"/><circle cx="1896.5" cy="444.9" r="6.5" fill="#e89941"/><circle cx="1616.3" cy="425.2" r="6.5" fill="#e89941"/><circle cx="1907.7" cy="406.7" r="6.5" fill="#e89941"/><circle cx="1673.5" cy="489.2" r="6.5" fill="#e89941"/><circle cx="1892.5" cy="449.7" r="6.5" fill="#e89941"/><circle cx="2095.6" cy="179.3" r="6.5" fill="#3375b8"/><circle cx="1438.8" cy="191.3" r="6.5" fill="#3375b8"/><circle cx="1592" cy="433" r="6.5" fill="#e89941"/><circle cx="1930.4" cy="393.5" r="6.5" fill="#e89941"/><circle cx="1725.2" cy="487.2" r="6.5" fill="#e89941"/><circle cx="1753.1" cy="503.8" r="6.5" fill="#e89941"/><circle cx="1563.9" cy="347.5" r="6.5" fill="#e8c194"/><circle cx="1496.5" cy="260" r="6.5" fill="#3375b8"/><circle cx="1858.3" cy="449.7" r="6.5" fill="#e89941"/><circle cx="1781.7" cy="473.9" r="6.5" fill="#e89941"/><circle cx="1773.7" cy="458" r="6.5" fill="#e89941"/><circle cx="1523" cy="351.8" r="6.5" fill="#e8bb87"/><circle cx="1964" cy="382.4" r="6.5" fill="#e89941"/><circle cx="1802.2" cy="502.4" r="6.5" fill="#e89941"/><circle cx="1890.9" cy="462.9" r="6.5" fill="#e89941"/><circle cx="1540.2" cy="359.6" r="6.5" fill="#e8af70"/><circle cx="1686.9" cy="471.2" r="6.5" fill="#e89941"/><circle cx="1820.4" cy="504.6" r="6.5" fill="#e89941"/><circle cx="1597" cy="428" r="6.5" fill="#e89941"/><circle cx="1916.5" cy="383.1" r="6.5" fill="#e89941"/><circle cx="1662.1" cy="479.5" r="6.5" fill="#e89941"/><circle cx="1589.1" cy="425.2" r="6.5" fill="#e89941"/><circle cx="1939.2" cy="411.3" r="6.5" fill="#e89941"/><circle cx="1797" cy="491.2" r="6.5" fill="#e89941"/><circle cx="1640.5" cy="431.9" r="6.5" fill="#e89941"/><circle cx="1616" cy="431" r="6.5" fill="#e89941"/><circle cx="1610.2" cy="439" r="6.5" fill="#e89941"/><circle cx="1699.1" cy="456.3" r="6.5" fill="#e89941"/><circle cx="1433.2" cy="165" r="6.5" fill="#3375b8"/><circle cx="1656.2" cy="465.2" r="6.5" fill="#e89941"/><circle cx="1770.3" cy="467.7" r="6.5" fill="#e89941"/><circle cx="1661" cy="487.3" r="6.5" fill="#e89941"/><circle cx="2049" cy="222" r="6.5" fill="#3375b8"/><circle cx="1844.2" cy="453.7" r="6.5" fill="#e89941"/><circle cx="1510" cy="306.5" r="6.5" fill="#c1d1e0"/><circle cx="1893.9" cy="447.5" r="6.5" fill="#e89941"/><circle cx="1878.6" cy="473.7" r="6.5" fill="#e89941"/><circle cx="1868.9" cy="460.1" r="6.5" fill="#e89941"/><circle cx="1829.4" cy="472.8" r="6.5" fill="#e89941"/><circle cx="1605.1" cy="447.8" r="6.5" fill="#e89941"/><circle cx="1949.6" cy="399.5" r="6.5" fill="#e89941"/><circle cx="1841.7" cy="441.7" r="6.5" fill="#e89941"/><circle cx="1831.4" cy="475.5" r="6.5" fill="#e89941"/><circle cx="1648.6" cy="447.5" r="6.5" fill="#e89941"/><circle cx="2036.2" cy="273.5" r="6.5" fill="#578cc2"/><circle cx="1667" cy="487.7" r="6.5" fill="#e89941"/><circle cx="1598.7" cy="440.2" r="6.5" fill="#e89941"/><circle cx="1737.2" cy="508.3" r="6.5" fill="#e89941"/><circle cx="1818.1" cy="507.8" r="6.5" fill="#e89941"/><circle cx="1686.2" cy="486" r="6.5" fill="#e89941"/><circle cx="1676.9" cy="490.7" r="6.5" fill="#e89941"/><circle cx="1903.8" cy="415.5" r="6.5" fill="#e89941"/><circle cx="1430.2" cy="159" r="6.5" fill="#3375b8"/><circle cx="1529.4" cy="362.6" r="6.5" fill="#e8ab67"/><circle cx="1789.5" cy="481.4" r="6.5" fill="#e89941"/><circle cx="1657" cy="464.3" r="6.5" fill="#e89941"/><circle cx="1750.4" cy="507.7" r="6.5" fill="#e89941"/><circle cx="1946.1" cy="403.8" r="6.5" fill="#e89941"/><circle cx="1576.7" cy="383.2" r="6.5" fill="#e89941"/><circle cx="1606.4" cy="442.3" r="6.5" fill="#e89941"/><circle cx="1974.1" cy="340.3" r="6.5" fill="#e8cbaa"/><circle cx="1970.8" cy="354.3" r="6.5" fill="#e8b780"/><circle cx="1548.9" cy="347.5" r="6.5" fill="#e8c194"/><circle cx="1909.2" cy="410.9" r="6.5" fill="#e89941"/><circle cx="1780.3" cy="457.8" r="6.5" fill="#e89941"/><circle cx="2048.1" cy="218.9" r="6.5" fill="#3375b8"/><circle cx="1710.7" cy="457.9" r="6.5" fill="#e89941"/><circle cx="1828.5" cy="473.4" r="6.5" fill="#e89941"/><circle cx="1609" cy="445.1" r="6.5" fill="#e89941"/><circle cx="1448.3" cy="226.7" r="6.5" fill="#3375b8"/><circle cx="1597.5" cy="440.6" r="6.5" fill="#e89941"/><circle cx="1849.4" cy="436.8" r="6.5" fill="#e89941"/><circle cx="1930.6" cy="397.7" r="6.5" fill="#e89941"/><circle cx="1898" cy="431" r="6.5" fill="#e89941"/><circle cx="1588.7" cy="421.2" r="6.5" fill="#e89941"/><circle cx="1581.4" cy="396" r="6.5" fill="#e89941"/><circle cx="1948.9" cy="396.9" r="6.5" fill="#e89941"/><circle cx="1577" cy="385.7" r="6.5" fill="#e89941"/><circle cx="1634.4" cy="421.1" r="6.5" fill="#e89941"/><circle cx="1639.5" cy="427" r="6.5" fill="#e89941"/><circle cx="1915.9" cy="386.2" r="6.5" fill="#e89941"/><circle cx="2016.5" cy="313" r="6.5" fill="#d6dee6"/><circle cx="2042.2" cy="252.5" r="6.5" fill="#3375b8"/><circle cx="1880.5" cy="471.4" r="6.5" fill="#e89941"/><circle cx="1932.4" cy="387" r="6.5" fill="#e89941"/><circle cx="2013.5" cy="314" r="6.5" fill="#d9e0e7"/><circle cx="1897" cy="438.7" r="6.5" fill="#e89941"/><circle cx="1796" cy="494.9" r="6.5" fill="#e89941"/><circle cx="1477.7" cy="247.4" r="6.5" fill="#3375b8"/><circle cx="1918" cy="376.2" r="6.5" fill="#e89941"/><circle cx="1991" cy="303" r="6.5" fill="#b6cadd"/><circle cx="1896" cy="444.6" r="6.5" fill="#e89941"/><circle cx="1632.5" cy="422" r="6.5" fill="#e89941"/><circle cx="1819.9" cy="499.9" r="6.5" fill="#e89941"/><circle cx="1456.1" cy="249.6" r="6.5" fill="#3375b8"/><circle cx="1810.6" cy="509.8" r="6.5" fill="#e89941"/><circle cx="1587.6" cy="418.5" r="6.5" fill="#e89941"/><circle cx="1494" cy="255" r="6.5" fill="#3375b8"/><circle cx="1786.7" cy="476.9" r="6.5" fill="#e89941"/><circle cx="1690.8" cy="474.6" r="6.5" fill="#e89941"/><circle cx="1722.1" cy="479.2" r="6.5" fill="#e89941"/><circle cx="1782.9" cy="464.8" r="6.5" fill="#e89941"/><circle cx="1825.1" cy="493.6" r="6.5" fill="#e89941"/><circle cx="1464.7" cy="254.8" r="6.5" fill="#3375b8"/><circle cx="1653.5" cy="462.3" r="6.5" fill="#e89941"/><circle cx="1830" cy="464" r="6.5" fill="#e89941"/><circle cx="1419.4" cy="123.2" r="6.5" fill="#3375b8"/><circle cx="1965.8" cy="373.2" r="6.5" fill="#e89c47"/><circle cx="1897.3" cy="435.8" r="6.5" fill="#e89941"/><circle cx="1579.3" cy="396" r="6.5" fill="#e89941"/><circle cx="1440.5" cy="195" r="6.5" fill="#3375b8"/><circle cx="1500.1" cy="272" r="6.5" fill="#5289c1"/><circle cx="1728.2" cy="491.9" r="6.5" fill="#e89941"/><circle cx="1858.5" cy="452.5" r="6.5" fill="#e89941"/><circle cx="2038.2" cy="264.4" r="6.5" fill="#3a7aba"/><circle cx="1570.8" cy="364.7" r="6.5" fill="#e8a861"/><circle cx="1961.1" cy="385" r="6.5" fill="#e89941"/><circle cx="1490.6" cy="249.6" r="6.5" fill="#3375b8"/><circle cx="1447.5" cy="223.5" r="6.5" fill="#3375b8"/><circle cx="2087.7" cy="190.4" r="6.5" fill="#3375b8"/><circle cx="1832" cy="454.3" r="6.5" fill="#e89941"/><circle cx="1443.1" cy="207.3" r="6.5" fill="#3375b8"/><circle cx="1908.4" cy="405.3" r="6.5" fill="#e89941"/><circle cx="1575.3" cy="373.6" r="6.5" fill="#e89b46"/><circle cx="1628" cy="413.5" r="6.5" fill="#e89941"/><circle cx="1653.5" cy="459.8" r="6.5" fill="#e89941"/><circle cx="1910.1" cy="405.3" r="6.5" fill="#e89941"/><circle cx="1659.6" cy="463.2" r="6.5" fill="#e89941"/></g>
<polyline points="1418.6,151.1 1425.5,163.2 1432.3,175.2 1439.2,187.3 1446,199 1452.9,210.1 1459.8,221.3 1466.6,232.4 1473.5,243.6 1480.4,255 1487.2,266.8 1494.1,278.7 1500.9,290.4 1507.8,301.2 1514.7,312.1 1521.5,322.9 1528.4,332.9 1535.3,342.8 1542.1,350.4 1549,350.8 1555.8,343.6 1562.7,342.8 1569.6,357.6 1576.4,382.3 1583.3,404.6 1590.1,424.8 1597,440.2 1603.9,446.7 1610.7,442.1 1617.6,431.9 1624.5,421.2 1631.3,418.6 1638.2,423.9 1645,440 1651.9,456.2 1658.8,472.3 1665.6,483.4 1672.5,491.1 1679.4,490.3 1686.2,481.6 1693.1,467 1699.9,452.4 1706.8,447.5 1713.7,462.3 1720.5,477.6 1727.4,493.1 1734.3,504.5 1741.1,511.5 1748,507.6 1754.8,495.9 1761.7,480 1768.6,463.4 1775.4,457.4 1782.3,463.8 1789.1,479 1796,492.1 1802.9,502.7 1809.7,508.7 1816.6,506.1 1823.5,494.6 1830.3,474.7 1837.2,456.2 1844,448 1850.9,446.7 1857.8,450.2 1864.6,458.7 1871.5,466 1878.4,470.3 1885.2,465.7 1892.1,454.2 1898.9,435.9 1905.8,415.3 1912.7,394.5 1919.5,375.9 1926.4,380.2 1933.2,404.1 1940.1,410.3 1947,404.2 1953.8,392.5 1960.7,380.7 1967.6,368.9 1974.4,357.1 1981.3,344.9 1988.1,331.8 1995,319.8 2001.9,307.8 2008.7,295.8 2015.6,283.8 2022.5,271.8 2029.3,259.7 2036.2,247.7 2043,235.7 2049.9,223.6 2056.8,211.6 2063.6,199.6 2070.5,187.6 2077.4,176.3 2084.2,165.2 2091.1,155.3 2097.9,146.5" fill="none" stroke="#4f7fb6" stroke-width="3.6" stroke-linejoin="miter"/>
</svg>
<div class="leg">Colors shows data, neuron and weight values.</div>
<div class="bar"></div>
<svg id="lg" width="2162" height="1112" viewBox="0 0 2162 1112" style="pointer-events:none">
<g stroke="#777" stroke-width="2"><line x1="1727.5" y1="872" x2="1727.5" y2="887.5"/><line x1="1914.8" y1="872" x2="1914.8" y2="887.5"/><line x1="2102" y1="872" x2="2102" y2="887.5"/></g>
<g font-size="25" fill="#777" text-anchor="middle"><text x="1727.5" y="921">-1</text><text x="1914.8" y="921">0</text><text x="2102" y="921">1</text></g>
</svg>
<div class="cb" style="left:1419px;top:1016px"></div><div class="cl" style="left:1482px;top:1014px">Show test data</div>
<div class="cb" style="left:1765px;top:1016px"></div><div class="cl" style="left:1828px;top:1014px">Discretize output</div>
<div class="tip"><div style="top:23px;font-size:26px;line-height:30px">Click anywhere to edit.</div><div style="top:68px;font-size:36.4px;line-height:42px">Weight is -5.2.</div></div>
</body></html>
